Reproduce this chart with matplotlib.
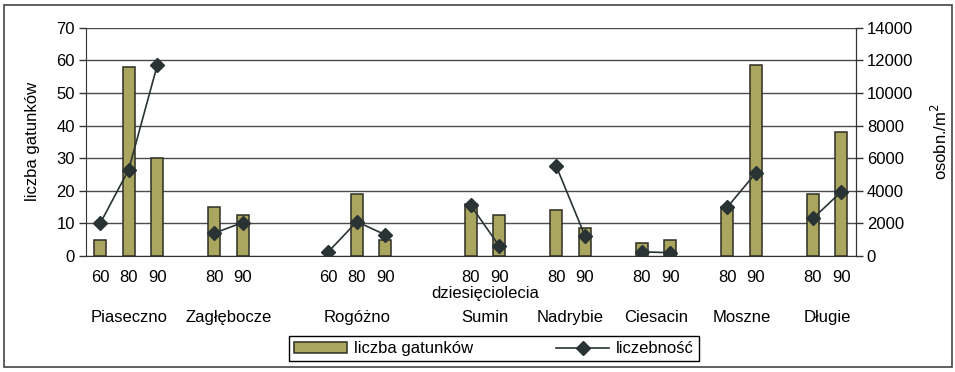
import numpy as np
import matplotlib.pyplot as plt
from matplotlib.patches import Rectangle

plt.rcParams['font.family'] = ['Liberation Sans', 'DejaVu Sans']

# ---------- data (one slot per decade, '' = empty slot) ----------
sites = ["Piaseczno", "Zagłębocze", "Rogóżno", "Sumin",
         "Nadrybie", "Ciesacin", "Moszne", "Długie"]
decades = ["60", "80", "90", "",
           "80", "90", "", "",
           "60", "80", "90", "", "",
           "80", "90", "",
           "80", "90", "",
           "80", "90", "",
           "80", "90", "",
           "80", "90"]
site_of_slot = [0, 0, 0, -1,
                1, 1, -1, -1,
                2, 2, 2, -1, -1,
                3, 3, -1,
                4, 4, -1,
                5, 5, -1,
                6, 6, -1,
                7, 7]
nan = np.nan
species = [5, 58, 30, nan,
           15, 12.5, nan, nan,
           nan, 19, 5, nan, nan,
           16, 12.5, nan,
           14, 8.5, nan,
           4, 5, nan,
           15, 58.5, nan,
           19, 38]
density = [2000, 5300, 11700, nan,
           1400, 2050, nan, nan,
           250, 2100, 1300, nan, nan,
           3100, 600, nan,
           5500, 1250, nan,
           250, 200, nan,
           3000, 5100, nan,
           2300, 3950]


def main():
    x = np.arange(len(decades))

    fig = plt.figure(figsize=(9.55, 3.72), dpi=100)
    ax = fig.add_axes([0.090, 0.312, 0.806, 0.613])
    ax2 = ax.twinx()

    ax.set_axisbelow(True)
    ax.grid(axis="y", color="#4a4a4a", linewidth=1.0)
    bars = ax.bar(x, species, width=0.42, color="#aaa660",
                  edgecolor="#2e2e24", linewidth=1.1,
                  label="liczba gatunków", zorder=2)
    line, = ax2.plot(x, density, color="#2a3333", linewidth=1.2,
                     marker="D", markersize=7, label="liczebność")

    ax.set_xlim(-0.5, len(decades) - 0.5)
    ax.set_ylim(0, 70)
    ax.set_yticks(range(0, 71, 10))
    ax2.set_ylim(0, 14000)
    ax2.set_yticks(range(0, 14001, 2000))

    for a in (ax, ax2):
        a.spines["top"].set_visible(False)
        a.tick_params(axis="y", labelsize=12, length=5, width=1.0,
                      color="#333333", pad=3)
    ax.spines["left"].set_color("#333333")
    ax2.spines["right"].set_color("#333333")
    ax.spines["bottom"].set_color("#333333")
    ax2.spines["left"].set_visible(False)
    ax2.spines["bottom"].set_visible(False)

    ax.set_xticks(x)
    ax.set_xticklabels(decades, fontsize=12)
    ax.tick_params(axis="x", length=0, pad=10)

    # site names centred under their bars
    for i, name in enumerate(sites):
        pos = [k for k, s in enumerate(site_of_slot) if s == i]
        ax.text(np.mean(pos), -0.27, name, transform=ax.get_xaxis_transform(),
                ha="center", va="center", fontsize=12)
    ax.text(13.5, -0.165, "dziesięciolecia", transform=ax.get_xaxis_transform(),
            ha="center", va="center", fontsize=12)

    ax.set_ylabel("liczba gatunków", fontsize=12, labelpad=12)
    ax2.set_ylabel("osobn./m$^2$", fontsize=12, labelpad=12)

    fig.legend([bars, line], ["liczba gatunków", "liczebność"],
               loc="center", bbox_to_anchor=(0.517, 0.062), ncol=2,
               fontsize=12, frameon=True, fancybox=False,
               edgecolor="black", framealpha=1, columnspacing=5.0,
               handlelength=3.2, borderpad=0.3, handletextpad=0.4)

    fig.patches.append(Rectangle((0.004, 0.013), 0.993, 0.974,
                                 transform=fig.transFigure, fill=False,
                                 edgecolor="#444444", linewidth=1.2))

    fig.savefig("out.png", dpi=100)


if __name__ == "__main__":
    main()
